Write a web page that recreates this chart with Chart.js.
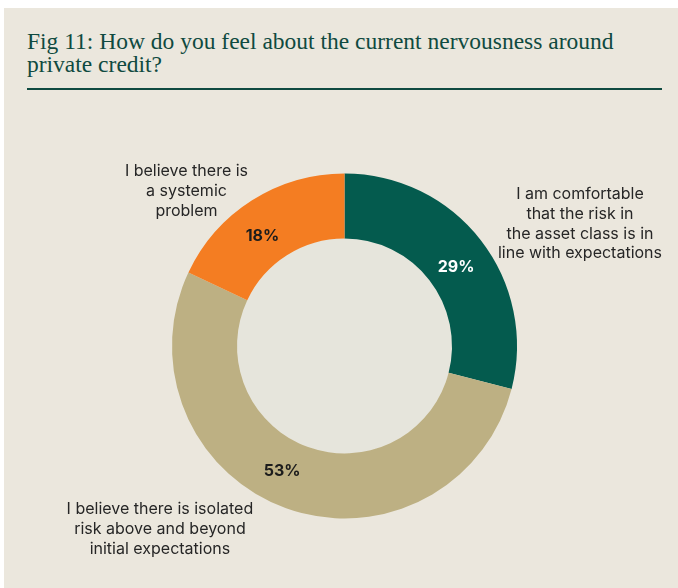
<!DOCTYPE html>
<html>
<head>
<meta charset="utf-8">
<script src="https://cdn.jsdelivr.net/npm/chart.js@4.4.1/dist/chart.umd.min.js"></script>
<style>
  html, body { margin: 0; padding: 0; background: #ffffff; }
  body { width: 678px; height: 588px; position: relative; overflow: hidden; }
  #panel {
    position: absolute; left: 4px; top: 8px; right: 0; bottom: 0;
    background: #EBE7DD;
  }
  #title {
    position: absolute; left: 27px; top: 30px; width: 650px;
    font-family: "Liberation Serif", "DejaVu Serif", serif;
    font-size: 23.5px; line-height: 23px; color: #0F4A40;
    margin: 0; font-weight: normal; white-space: nowrap;
  }
  #rule {
    position: absolute; left: 27px; top: 88px; width: 635px; height: 2px;
    background: #0F4A40;
  }
  #chartBox { position: absolute; left: 0; top: 0; width: 678px; height: 588px; }
</style>
</head>
<body>
<div id="panel"></div>
<h1 id="title">Fig 11: How do you feel about the current nervousness around<br>private credit?</h1>
<div id="rule"></div>
<div id="chartBox"><canvas id="chart"></canvas></div>
<script>
// Survey answers, clockwise from 12 o'clock
const categories = [
  ["I am comfortable", "that the risk in", "the asset class is in", "line with expectations"],
  ["I believe there is isolated", "risk above and beyond", "initial expectations"],
  ["I believe there is", "a systemic", "problem"]
];
const shares = [29, 53, 18];
const percentLabels = ["29%", "53%", "18%"];

const sliceColors = ["#045B4E", "#BDB083", "#F47D22"];
const percentColors = ["#FFFFFF", "#1C1C1C", "#1C1C1C"];
// nudges of the percent labels from the slice centre (px)
const percentNudge = [[1, 7], [-15, -7], [-7, 8]];
// category text anchors (first baseline), as multiples of the outer radius from the centre
const captionAnchor = [[1.365, -0.852], [-1.07, 0.974], [-0.916, -0.986]];

const holeFill = {
  id: "holeFill",
  beforeDatasetsDraw(chart) {
    const arc = chart.getDatasetMeta(0).data[0];
    if (!arc) return;
    const ctx = chart.ctx;
    ctx.save();
    ctx.beginPath();
    ctx.arc(arc.x, arc.y, arc.innerRadius, 0, Math.PI * 2);
    ctx.fillStyle = "#E6E5DC";
    ctx.fill();
    ctx.restore();
  }
};

const sliceText = {
  id: "sliceText",
  afterDatasetsDraw(chart) {
    const meta = chart.getDatasetMeta(0);
    const ctx = chart.ctx;
    ctx.save();
    ctx.textAlign = "center";
    meta.data.forEach((arc, i) => {
      const p = arc.tooltipPosition();
      ctx.textBaseline = "middle";
      ctx.font = "bold 16px Inter, 'Liberation Sans', sans-serif";
      ctx.fillStyle = percentColors[i];
      ctx.fillText(percentLabels[i], p.x + percentNudge[i][0], p.y + percentNudge[i][1]);

      const r = arc.outerRadius;
      const cx = arc.x + captionAnchor[i][0] * r;
      const cy = arc.y + captionAnchor[i][1] * r;
      ctx.textBaseline = "alphabetic";
      ctx.font = "16px Inter, 'Liberation Sans', sans-serif";
      ctx.fillStyle = "#262626";
      categories[i].forEach((line, k) => {
        ctx.fillText(line, cx, cy + k * 19.8);
      });
    });
    ctx.restore();
  }
};

new Chart(document.getElementById("chart"), {
  type: "doughnut",
  data: {
    labels: categories.map(c => c.join(" ")),
    datasets: [{
      data: shares,
      backgroundColor: sliceColors,
      borderWidth: 0,
      hoverOffset: 0
    }]
  },
  options: {
    responsive: true,
    maintainAspectRatio: false,
    animation: false,
    cutout: "62.3%",
    rotation: 0,
    layout: { padding: { left: 172, top: 173.5, right: 161, bottom: 69.5 } },
    plugins: {
      legend: { display: false },
      tooltip: { enabled: false }
    }
  },
  plugins: [holeFill, sliceText]
});
</script>
</body>
</html>
